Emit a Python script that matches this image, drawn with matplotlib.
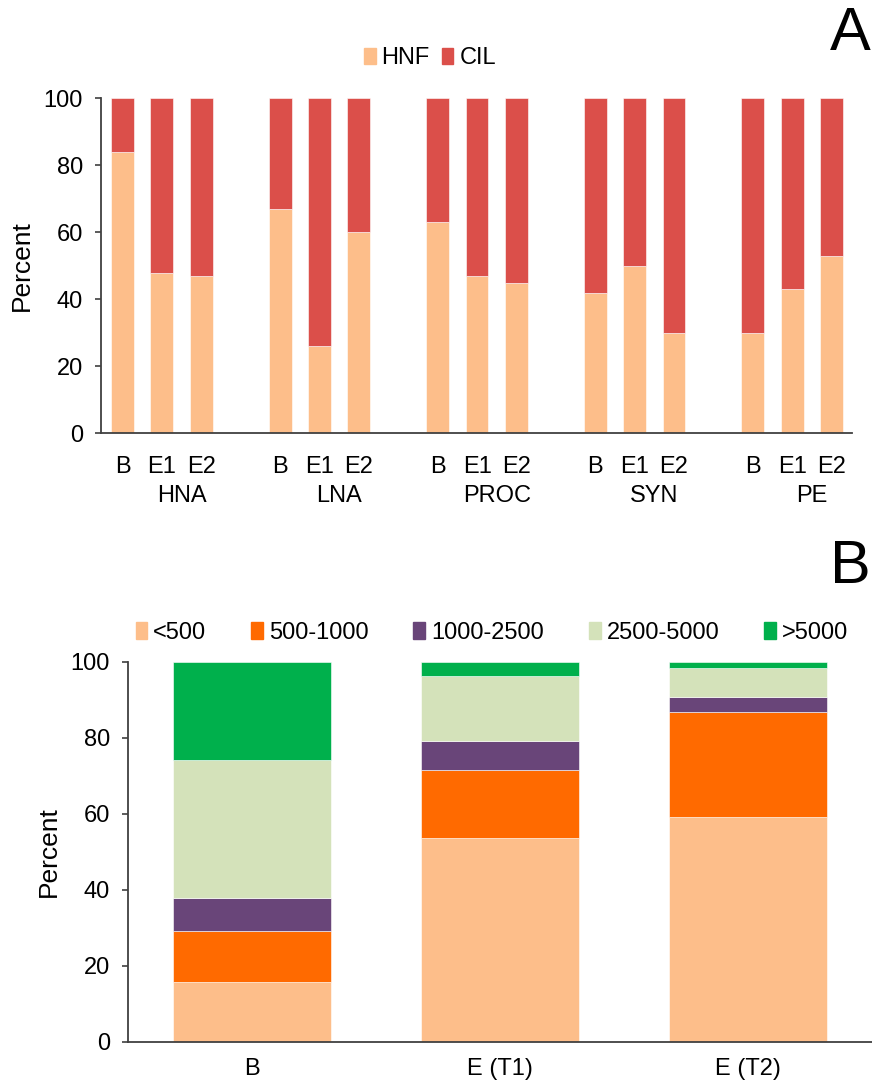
import matplotlib
matplotlib.use("Agg")
import matplotlib.pyplot as plt
from matplotlib.patches import Patch
import matplotlib.transforms as mtransforms

plt.rcParams['font.family'] = ['Liberation Sans', 'DejaVu Sans']

# ---- Panel A data: HNF vs CIL share per population and treatment ----
groups_a = ["HNA", "LNA", "PROC", "SYN", "PE"]
treatments_a = ["B", "E1", "E2"]
hnf = [84, 48, 47, 67, 26, 60, 63, 47, 45, 42, 50, 30, 30, 43, 53]
cil = [100 - v for v in hnf]

# ---- Panel B data: size classes per sample ----
samples_b = ["B", "E (T1)", "E (T2)"]
size_classes = ["<500", "500-1000", "1000-2500", "2500-5000", ">5000"]
lt500 = [15.8, 53.7, 59.3]
s500_1000 = [13.4, 17.9, 27.5]
s1000_2500 = [8.6, 7.5, 4.1]
s2500_5000 = [36.4, 17.3, 7.6]
gt5000 = [25.8, 3.6, 1.5]

c_hnf = "#FDBE8A"
c_cil = "#DB4F4A"
colors_b = ["#FDBE8A", "#FF6A00", "#694579", "#D4E2BA", "#00B04C"]
spine_c = "#404040"
fs = 17
fs_lab = 19

fig = plt.figure(figsize=(8.72, 10.82), dpi=100)


def style_axes(ax):
    for s in ("top", "right"):
        ax.spines[s].set_visible(False)
    for s in ("left", "bottom"):
        ax.spines[s].set_color(spine_c)
        ax.spines[s].set_linewidth(1.3)
    ax.tick_params(axis="y", direction="out", length=4, width=1.2,
                   color=spine_c, labelsize=fs, pad=9)
    ax.tick_params(axis="x", length=0, labelsize=fs)
    ax.set_ylim(0, 100)
    ax.set_yticks(range(0, 101, 20))


# ---- Panel A ----
axA = fig.add_axes([0.1158, 0.5995, 0.977 - 0.1158, 0.3096])
pos = []
sub_labels = []
for g in range(len(groups_a)):
    for t in range(len(treatments_a)):
        pos.append(g * 4 + t)
        sub_labels.append(treatments_a[t])
axA.bar(pos, hnf, width=0.58, color=c_hnf, edgecolor="white", linewidth=0.4)
axA.bar(pos, cil, width=0.58, bottom=hnf, color=c_cil, edgecolor="white", linewidth=0.4)
axA.set_xlim(-0.546, 18.515)
style_axes(axA)
axA.set_xticks(pos)
axA.set_xticklabels(sub_labels)
axA.tick_params(axis="x", pad=16)
axA.set_ylabel("Percent", fontsize=fs_lab, labelpad=7)
trA = mtransforms.blended_transform_factory(axA.transData, axA.transAxes)
for g, name in enumerate(groups_a):
    axA.text(g * 4 + 1.5, -0.186, name, transform=trA, ha="center", va="center",
             fontsize=fs)
axA.legend(handles=[Patch(color=c_hnf, label="HNF"), Patch(color=c_cil, label="CIL")],
           loc="center", bbox_to_anchor=(0.493, 0.946), bbox_transform=fig.transFigure,
           ncol=2, frameon=False, fontsize=fs, handlelength=0.5, handleheight=0.7,
           handletextpad=0.25, columnspacing=0.5)
fig.text(0.998, 0.968, "A", ha="right", va="center", fontsize=44)

# ---- Panel B ----
axB = fig.add_axes([0.1468, 0.0372, 1.0 - 0.1468, 0.351])
xb = list(range(len(samples_b)))
series_b = [lt500, s500_1000, s1000_2500, s2500_5000, gt5000]
bottom = [0.0] * len(samples_b)
for vals, col, lab in zip(series_b, colors_b, size_classes):
    axB.bar(xb, vals, width=0.635, bottom=bottom, color=col, label=lab,
            edgecolor="white", linewidth=0.4)
    bottom = [b + v for b, v in zip(bottom, vals)]
axB.set_xlim(-0.5, 2.5)
style_axes(axB)
axB.set_xticks(xb)
axB.set_xticklabels(samples_b)
axB.tick_params(axis="x", pad=12)
axB.set_ylabel("Percent", fontsize=fs_lab, labelpad=7)
axB.legend(handles=[Patch(color=c, label=l) for c, l in zip(colors_b, size_classes)],
           loc="center", bbox_to_anchor=(0.564, 0.415), bbox_transform=fig.transFigure,
           ncol=5, frameon=False, fontsize=fs, handlelength=0.5, handleheight=0.7,
           handletextpad=0.25, columnspacing=1.9)
fig.text(0.998, 0.4755, "B", ha="right", va="center", fontsize=44)

fig.savefig("out.png", dpi=100)
